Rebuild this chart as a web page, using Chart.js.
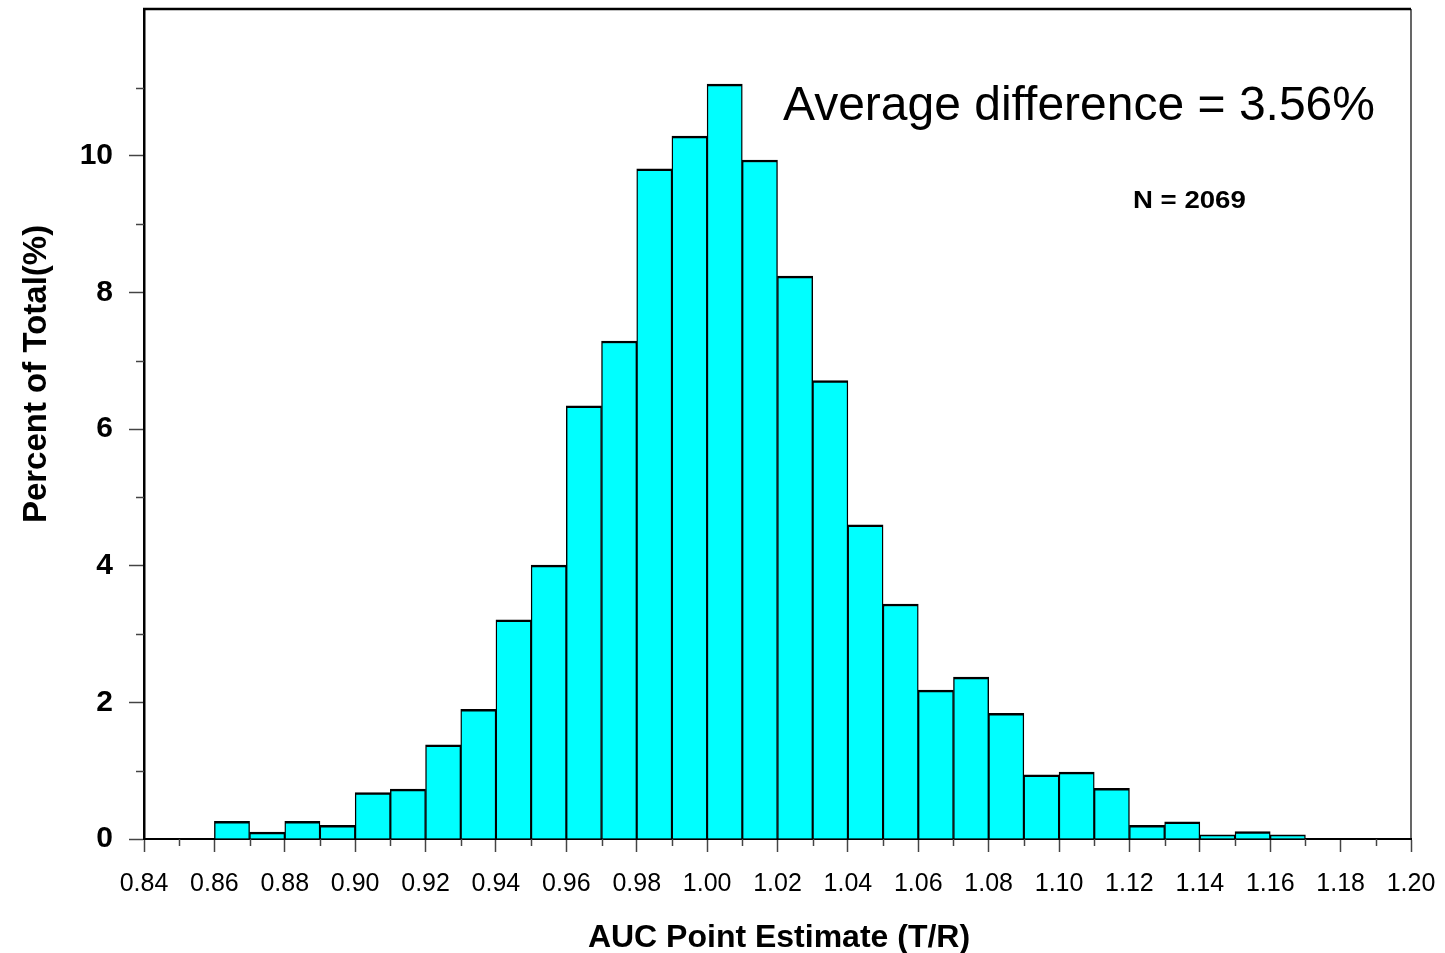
<!DOCTYPE html>
<html>
<head>
<meta charset="utf-8">
<script src="https://cdn.jsdelivr.net/npm/chart.js@4.4.1/dist/chart.umd.min.js"></script>
<style>
  html, body { margin: 0; padding: 0; background: #fff; }
  #wrap { width: 1445px; height: 953px; position: relative; }
</style>
</head>
<body>
<div id="wrap"><canvas id="c"></canvas></div>
<script>
// Bin centers (bin width 0.01) of AUC point estimate (T/R)
const binCenters = [0.845, 0.855, 0.865, 0.875, 0.885, 0.895, 0.905, 0.915, 0.925, 0.935,
                    0.945, 0.955, 0.965, 0.975, 0.985, 0.995, 1.005, 1.015, 1.025, 1.035,
                    1.045, 1.055, 1.065, 1.075, 1.085, 1.095, 1.105, 1.115, 1.125, 1.135,
                    1.145, 1.155, 1.165, 1.175, 1.185, 1.195];
// Percent of total per bin
const percentOfTotal = [0, 0, 0.26, 0.10, 0.26, 0.20, 0.68, 0.73, 1.38, 1.90,
                        3.21, 4.01, 6.34, 7.29, 9.81, 10.29, 11.05, 9.94, 8.24, 6.71,
                        4.60, 3.44, 2.18, 2.37, 1.84, 0.94, 0.98, 0.74, 0.20, 0.25,
                        0.06, 0.11, 0.06, 0, 0, 0];
// Axis ticks
const xMinorTicks = [0.85, 0.87, 0.89, 0.91, 0.93, 0.95, 0.97, 0.99, 1.01, 1.03,
                     1.05, 1.07, 1.09, 1.11, 1.13, 1.15, 1.17, 1.19];
const yMajorTicks = [0, 2, 4, 6, 8, 10];
const yMinorTicks = [1, 3, 5, 7, 9, 11];
const xAxisTitle = 'AUC Point Estimate (T/R)';
const yAxisTitle = 'Percent of Total(%)';
const noteMain = 'Average difference = 3.56%';
const noteN = 'N = 2069';

const FONT = "'Liberation Sans', Arial, Helvetica, sans-serif";

const decor = {
  id: 'decor',
  afterDraw(chart) {
    const { ctx, chartArea: a, scales: { x, y } } = chart;
    ctx.save();
    // minor ticks
    ctx.strokeStyle = '#444';
    ctx.lineWidth = 1.5;
    xMinorTicks.forEach(v => {
      const px = Math.round(x.getPixelForValue(v)) + 0.5;
      ctx.beginPath(); ctx.moveTo(px, a.bottom); ctx.lineTo(px, a.bottom + 7); ctx.stroke();
    });
    yMinorTicks.forEach(v => {
      const py = Math.round(y.getPixelForValue(v)) + 0.5;
      ctx.beginPath(); ctx.moveTo(a.left - 8, py); ctx.lineTo(a.left, py); ctx.stroke();
    });
    // frame: top and right
    ctx.strokeStyle = '#000';
    ctx.lineWidth = 2.5;
    ctx.beginPath(); ctx.moveTo(a.left - 1, a.top); ctx.lineTo(a.right, a.top); ctx.stroke();
    ctx.lineWidth = 1.2;
    ctx.beginPath(); ctx.moveTo(a.right, a.top); ctx.lineTo(a.right, a.bottom); ctx.stroke();

    // annotations
    ctx.fillStyle = '#000';
    ctx.textBaseline = 'alphabetic';
    ctx.textAlign = 'left';
    ctx.font = `48px ${FONT}`;
    ctx.fillText(noteMain, 783, 120);

    ctx.save();
    ctx.font = `bold 23px ${FONT}`;
    ctx.translate(1133, 208);
    ctx.scale(1.2, 1);
    ctx.fillText(noteN, 0, 0);
    ctx.restore();

    // axis titles
    ctx.font = `bold 32px ${FONT}`;
    ctx.textAlign = 'center';
    ctx.fillText(xAxisTitle, 779, 947);

    ctx.save();
    ctx.font = `bold 33px ${FONT}`;
    ctx.translate(46, 374);
    ctx.rotate(-Math.PI / 2);
    ctx.fillText(yAxisTitle, 0, 0);
    ctx.restore();

    ctx.restore();
  }
};

new Chart(document.getElementById('c'), {
  type: 'bar',
  data: {
    datasets: [{
      data: binCenters.map((c, i) => ({ x: c, y: percentOfTotal[i] })),
      backgroundColor: '#00FFFF',
      borderColor: '#000',
      borderWidth: { top: 2.5, left: 1.4, right: 1.4, bottom: 0 },
      borderSkipped: 'start',
      barPercentage: 1.0,
      categoryPercentage: 1.0
    }]
  },
  options: {
    responsive: true,
    maintainAspectRatio: false,
    animation: false,
    layout: { padding: { left: 0, top: 9, right: 34, bottom: 0 } },
    plugins: { legend: { display: false }, tooltip: { enabled: false } },
    scales: {
      x: {
        type: 'linear',
        min: 0.84,
        max: 1.20,
        offset: false,
        grid: { display: true, offset: false, drawOnChartArea: false, drawTicks: true, tickLength: 13, tickColor: '#444', tickWidth: 1.5 },
        border: { display: true, color: '#000', width: 2 },
        ticks: {
          stepSize: 0.02,
          includeBounds: false,
          padding: 17,
          color: '#000',
          font: { family: FONT, size: 25 },
          maxRotation: 0,
          autoSkip: false,
          callback: v => Number(v).toFixed(2)
        },
        afterFit: s => { s.height = 114; s.paddingLeft = 0; s.paddingRight = 0; }
      },
      y: {
        type: 'linear',
        min: 0,
        max: 12.15,
        grid: { display: true, drawOnChartArea: false, drawTicks: true, tickLength: 15, tickColor: '#444', tickWidth: 1.5 },
        border: { display: true, color: '#000', width: 2.5 },
        ticks: {
          stepSize: 2,
          includeBounds: false,
          padding: 16,
          color: '#000',
          font: { family: FONT, size: 30, weight: 'bold' },
          callback: v => String(v)
        },
        afterBuildTicks: s => { s.ticks = s.ticks.filter(t => yMajorTicks.includes(t.value)); },
        afterFit: s => { s.width = 144; s.paddingTop = 0; s.paddingBottom = 0; }
      }
    }
  },
  plugins: [decor]
});
</script>
</body>
</html>
